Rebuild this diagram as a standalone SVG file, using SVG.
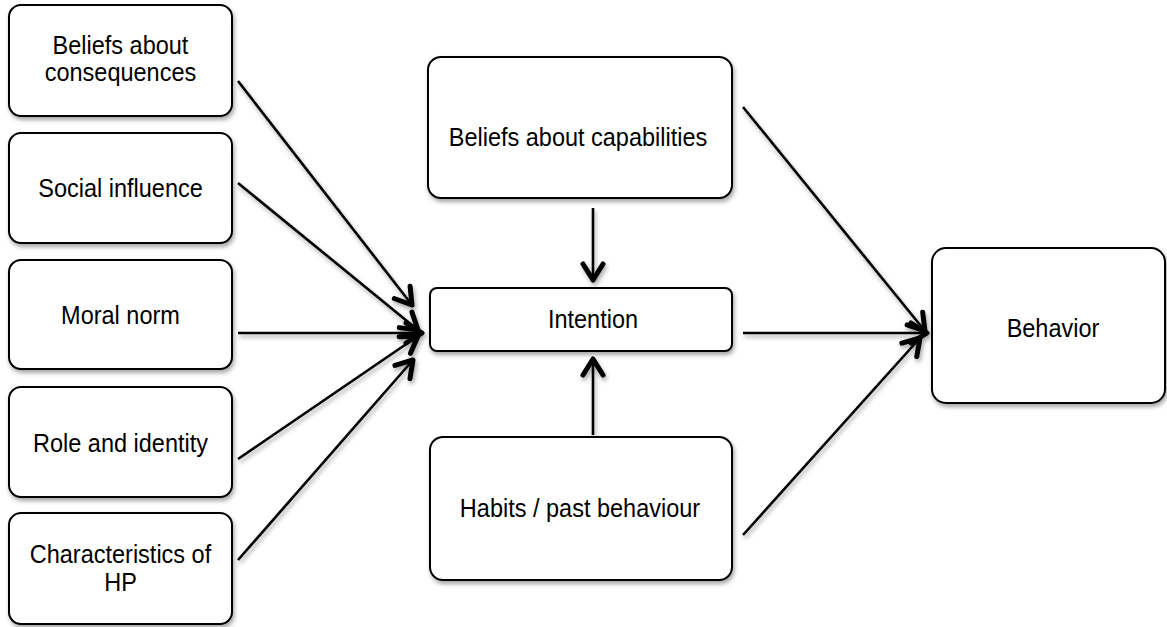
<svg xmlns="http://www.w3.org/2000/svg" width="1167" height="627" viewBox="0 0 1167 627">
  <defs>
    <filter id="shadow" x="-10%" y="-10%" width="130%" height="140%">
      <feDropShadow dx="1.5" dy="3" stdDeviation="2" flood-color="#000" flood-opacity="0.35"/>
    </filter>
    <marker id="chevron" markerUnits="userSpaceOnUse" markerWidth="36" markerHeight="36" viewBox="-24 -18 36 36" refX="0" refY="0" orient="auto">
      <path d="M-16,-10 L0,0 L-16,10" fill="none" stroke="#000" stroke-width="5" stroke-linecap="round" stroke-linejoin="round"/>
    </marker>
  </defs>
  <style>
    .box { fill: #fff; stroke: #000; stroke-width: 2; filter: url(#shadow); }
    /* labels are set slightly condensed: x positions are divided by the 0.94 squeeze */
    .lbl { font-family: "Liberation Sans", Arial, Helvetica, sans-serif; font-size: 25px; fill: #000; text-anchor: middle; }
    .edge { fill: none; stroke: #000; stroke-width: 2.6; marker-end: url(#chevron); }
  </style>
  <rect width="1167" height="627" fill="#fff"/>

  <!-- connectors -->
  <g id="connectors" filter="url(#shadow)">
    <line class="edge" x1="238" y1="81" x2="412" y2="305"/>
    <line class="edge" x1="238" y1="183" x2="418" y2="330"/>
    <line class="edge" x1="238" y1="333" x2="422" y2="333"/>
    <line class="edge" x1="238" y1="459" x2="418" y2="336"/>
    <line class="edge" x1="238" y1="560" x2="413" y2="360"/>
    <line class="edge" x1="593" y1="208" x2="593" y2="280"/>
    <line class="edge" x1="593" y1="435" x2="593" y2="359"/>
    <line class="edge" x1="743" y1="107" x2="925" y2="331"/>
    <line class="edge" x1="743" y1="333" x2="927" y2="333"/>
    <line class="edge" x1="743" y1="535" x2="920" y2="338"/>
  </g>

  <!-- determinants -->
  <g id="beliefs-consequences">
    <rect class="box" x="9" y="5" width="223" height="111" rx="12"/>
    <g transform="scale(0.94 1)">
      <text class="lbl" x="128.19" y="54">Beliefs about</text>
      <text class="lbl" x="128.19" y="81">consequences</text>
    </g>
  </g>
  <g id="social-influence">
    <rect class="box" x="9" y="133" width="223" height="110" rx="12"/>
    <text class="lbl" transform="scale(0.94 1)" x="128.19" y="197">Social influence</text>
  </g>
  <g id="moral-norm">
    <rect class="box" x="9" y="260" width="223" height="109" rx="12"/>
    <text class="lbl" transform="scale(0.94 1)" x="128.19" y="324">Moral norm</text>
  </g>
  <g id="role-identity">
    <rect class="box" x="9" y="387" width="223" height="110" rx="12"/>
    <text class="lbl" transform="scale(0.94 1)" x="128.19" y="452">Role and identity</text>
  </g>
  <g id="characteristics-hp">
    <rect class="box" x="9" y="513" width="223" height="111" rx="12"/>
    <g transform="scale(0.94 1)">
      <text class="lbl" x="128.19" y="563">Characteristics of</text>
      <text class="lbl" x="128.19" y="591">HP</text>
    </g>
  </g>

  <!-- central column -->
  <g id="beliefs-capabilities">
    <rect class="box" x="428" y="57" width="304" height="141" rx="13"/>
    <text class="lbl" transform="scale(0.94 1)" x="614.89" y="146">Beliefs about capabilities</text>
  </g>
  <g id="intention">
    <rect class="box" x="430" y="288" width="302" height="63" rx="7"/>
    <text class="lbl" transform="scale(0.94 1)" x="630.85" y="328">Intention</text>
  </g>
  <g id="habits">
    <rect class="box" x="430" y="437" width="302" height="143" rx="13"/>
    <text class="lbl" transform="scale(0.94 1)" x="617.02" y="517">Habits / past behaviour</text>
  </g>

  <!-- outcome -->
  <g id="behavior">
    <rect class="box" x="932" y="248" width="233" height="155" rx="14"/>
    <text class="lbl" transform="scale(0.94 1)" x="1120.21" y="337">Behavior</text>
  </g>
</svg>
